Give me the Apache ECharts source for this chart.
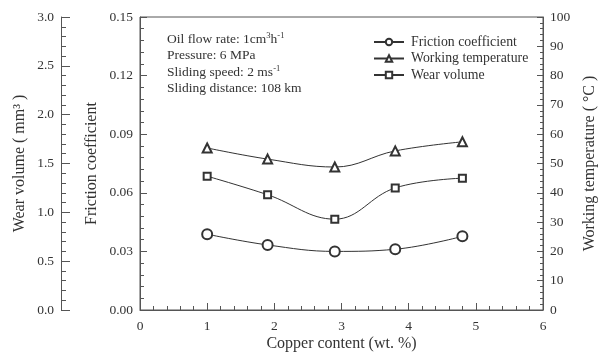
<!DOCTYPE html>
<html>
<head>
<meta charset="utf-8">
<script src="https://cdn.jsdelivr.net/npm/echarts@6/dist/echarts.min.js"></script>
<style>
html, body { margin: 0; padding: 0; background: #fff; }
#chart { width: 601px; height: 362px; }
</style>
</head>
<body>
<div id="chart"></div>
<script>
// copper content (wt. %)
var copper = [1.0, 1.9, 2.9, 3.8, 4.8];
var frictionCoef = [0.0388, 0.0333, 0.0300, 0.0311, 0.0377];
var workingTemp = [55.3, 51.5, 48.8, 54.3, 57.4];
var wearVolume = [1.37, 1.18, 0.93, 1.25, 1.35];

var seriesNames = ['Friction coefficient', 'Working temperature', 'Wear volume'];
var noteLines = [
	'Oil flow rate: 1cm{sup|3}h{sup|-1}',
	'Pressure: 6 MPa',
	'Sliding speed: 2 ms{sup|-1}',
	'Sliding distance: 108 km'
];

var FONT = '"Liberation Serif", "Times New Roman", serif';
var ink = '#333';
var lineCol = '#555';

function pairs(xs, ys) {
	var out = [];
	for (var i = 0; i < xs.length; i++) {
		out.push([xs[i], ys[i]]);
	}
	return out;
}

var chart;

window.onload = function() {
	chart = echarts.init(document.getElementById('chart'));
	initChart();
};

function axisBase(extra) {
	var base = {
		type: 'value',
		nameMoveOverlap: false,
		axisLine: { show: true, lineStyle: { color: lineCol, width: 1 } },
		axisTick: { show: true, inside: true, length: 7, lineStyle: { color: lineCol } },
		minorTick: { show: true, splitNumber: 5, length: 4, lineStyle: { color: lineCol } },
		splitLine: { show: false },
		axisLabel: { color: ink, fontFamily: FONT, fontSize: 13.5 },
		nameTextStyle: { color: ink, fontFamily: FONT, fontSize: 16 }
	};
	for (var k in extra) base[k] = extra[k];
	return base;
}

function initChart() {
	var option = {
		animation: false,
		backgroundColor: '#fff',
		grid: {
			left: 140, right: 58, top: 17, bottom: 52,
			outerBoundsMode: 'none',
			show: true, borderColor: lineCol, borderWidth: 1
		},
		legend: {
			orient: 'vertical',
			left: 368, top: 30,
			itemWidth: 30, itemHeight: 8, itemGap: 2.5,
			data: seriesNames,
			textStyle: { color: ink, fontFamily: FONT, fontSize: 13.8, padding: [0, 0, 0, 2] }
		},
		graphic: [{
			type: 'text',
			left: 167, top: 31,
			style: {
				text: noteLines.join('\n'),
				fontFamily: FONT, fontSize: 13.5, fill: ink,
				lineHeight: 16.5,
				rich: {
					sup: { fontSize: 8.5, fontFamily: FONT, fill: ink, verticalAlign: 'top', padding: [0, 0, 7, 0] }
				}
			}
		}],
		xAxis: axisBase({
			min: 0, max: 6, interval: 1,
			name: 'Copper content (wt. %)',
			nameLocation: 'middle', nameGap: 26,
			axisLabel: { color: ink, fontFamily: FONT, fontSize: 13.5, margin: 9 }
		}),
		yAxis: [
			axisBase({
				min: 0, max: 0.15, interval: 0.03,
				position: 'left',
				name: 'Friction coefficient',
				nameLocation: 'middle', nameGap: 40,
				axisLabel: {
					color: ink, fontFamily: FONT, fontSize: 13.5, margin: 7,
					formatter: function(v) { return v.toFixed(2); }
				}
			}),
			axisBase({
				min: 0, max: 100, interval: 10,
				position: 'right',
				name: 'Working temperature ( \u00b0C )',
				nameLocation: 'middle', nameGap: 39,
				nameRotate: 90,
				axisTick: { show: true, inside: true, length: 6, lineStyle: { color: lineCol } },
				minorTick: { show: true, splitNumber: 5, length: 3, lineStyle: { color: lineCol } },
				axisLabel: { color: ink, fontFamily: FONT, fontSize: 13.5, margin: 7 }
			}),
			axisBase({
				min: 0, max: 3, interval: 0.5,
				position: 'left',
				offset: 79,
				name: 'Wear volume ( mm\u00b3 )',
				nameLocation: 'middle', nameGap: 33,
				axisTick: { show: true, inside: true, length: 9, lineStyle: { color: lineCol } },
				minorTick: { show: true, splitNumber: 5, length: 5, lineStyle: { color: lineCol } },
				axisLabel: {
					color: ink, fontFamily: FONT, fontSize: 13.5, margin: 7,
					formatter: function(v) { return v.toFixed(1); }
				}
			})
		],
		series: [{
			name: seriesNames[0],
			type: 'line',
			yAxisIndex: 0,
			smooth: 0.4,
			symbol: 'emptyCircle',
			symbolSize: 10,
			lineStyle: { color: '#333', width: 1 },
			itemStyle: { color: '#333', borderColor: '#333', borderWidth: 1 },
			data: pairs(copper, frictionCoef)
		}, {
			name: seriesNames[1],
			type: 'line',
			yAxisIndex: 1,
			smooth: 0.4,
			symbol: 'emptyTriangle',
			symbolSize: 9,
			lineStyle: { color: '#333', width: 1 },
			itemStyle: { color: '#333', borderColor: '#333', borderWidth: 1 },
			data: pairs(copper, workingTemp)
		}, {
			name: seriesNames[2],
			type: 'line',
			yAxisIndex: 2,
			smooth: 0.4,
			symbol: 'emptyRect',
			symbolSize: 7,
			lineStyle: { color: '#333', width: 1 },
			itemStyle: { color: '#333', borderColor: '#333', borderWidth: 1 },
			data: pairs(copper, wearVolume)
		}]
	};
	chart.setOption(option);
}
</script>
</body>
</html>
